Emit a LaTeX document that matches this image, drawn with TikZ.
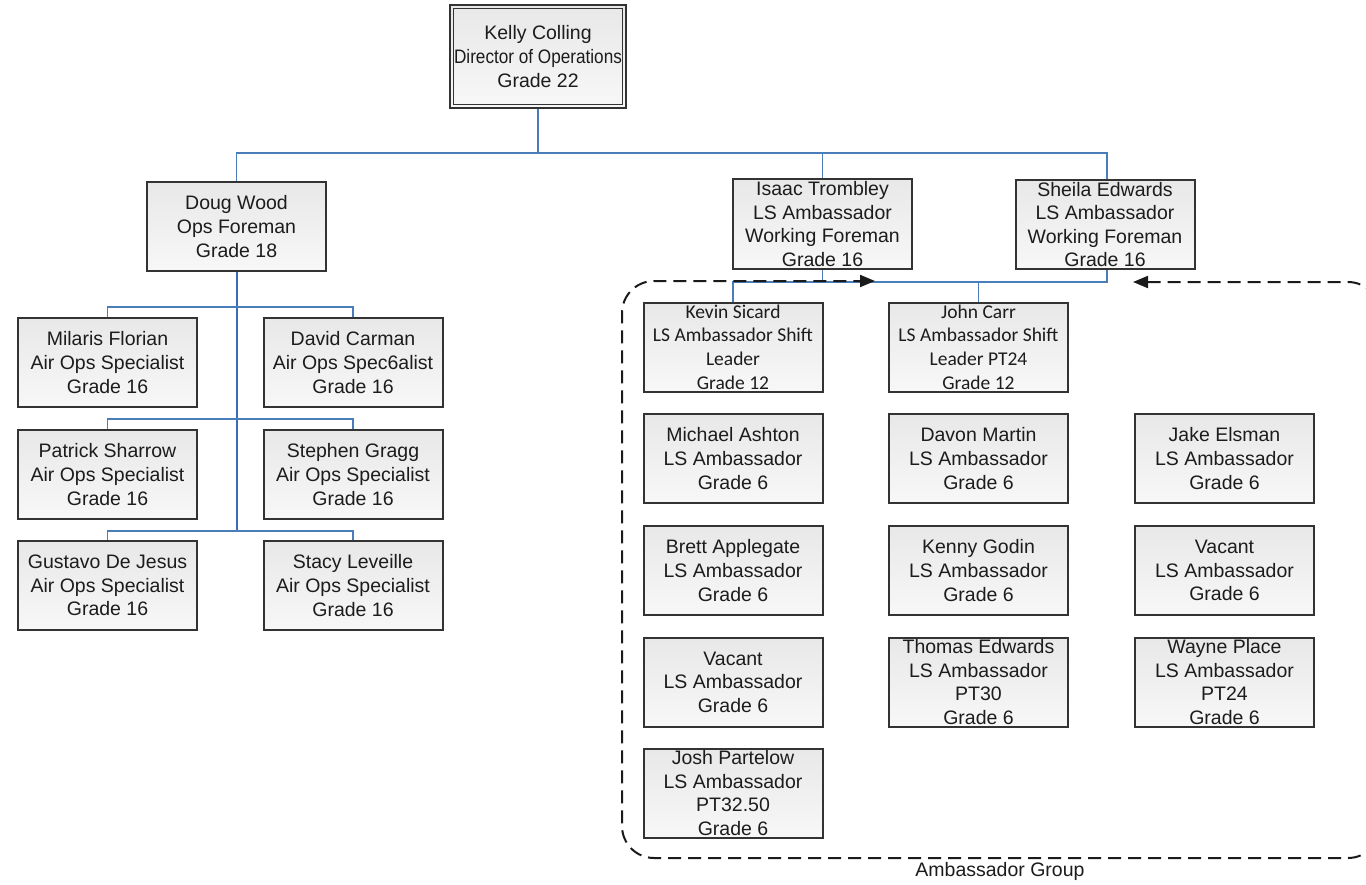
\documentclass[tikz,border=0pt]{standalone}
\usepackage{fontspec}
\usepackage{graphicx}
\setmainfont{Liberation Sans}
\newfontfamily\calibrifont{Carlito}
\usetikzlibrary{arrows.meta}
\definecolor{boxline}{HTML}{333333}
\definecolor{boxtext}{HTML}{1C1C1C}
\definecolor{conn}{HTML}{4A7EBB}
\definecolor{conndark}{HTML}{3A6CB8}
\definecolor{dashcol}{HTML}{1A1A1A}
\tikzset{
  emp/.style={draw=boxline, line width=2pt, top color=black!9, bottom color=black!3,
    minimum width=179pt, minimum height=89pt, inner sep=0pt, align=center,
    text=boxtext, font=\fontsize{19.5}{23.6}\selectfont},
  topbox/.style={emp, minimum width=176pt, minimum height=103pt},
  calib/.style={font=\calibrifont\fontsize{19.5}{23.8}\selectfont},
  link/.style={draw=conn, line width=1.5pt},
  trunk/.style={draw=conndark, line width=2pt},
  grouping/.style={draw=dashcol, line width=2pt, dash pattern=on 13pt off 7pt,
    rounded corners=32pt, {Triangle[length=15pt,width=12pt]}-{Triangle[length=15pt,width=12pt]}},
  grouplabel/.style={text=boxtext, font=\fontsize{19.5}{23.6}\selectfont, inner sep=0pt}
}
\begin{document}
\begin{tikzpicture}[x=1pt,y=-1pt]
\useasboundingbox (0,0) rectangle (1366,884);
\fill[white] (0,0) rectangle (1366,884);

% ---------- boxes ----------
\node[topbox] (kelly) at (538,56.5) {Kelly Colling\\\scalebox{0.88}[1]{Director of Operations}\\Grade 22};
\draw[boxline, line width=1.5pt] ([shift={(4.5pt,-4.5pt)}]kelly.north west) rectangle ([shift={(-4.5pt,4.5pt)}]kelly.south east);

\node[emp] (doug) at (236.5,226.5) {Doug Wood\\Ops Foreman\\Grade 18};
\node[emp] (milaris) at (107.5,362.5) {Milaris Florian\\Air Ops Specialist\\Grade 16};
\node[emp] (david) at (353,362.5) {David Carman\\Air Ops Spec6alist\\Grade 16};
\node[emp] (patrick) at (107.5,474.5) {Patrick Sharrow\\Air Ops Specialist\\Grade 16};
\node[emp] (stephen) at (353,474.5) {Stephen Gragg\\Air Ops Specialist\\Grade 16};
\node[emp] (gustavo) at (107.5,585.5) {Gustavo De Jesus\\Air Ops Specialist\\Grade 16};
\node[emp] (stacy) at (353,585.5) {Stacy Leveille\\Air Ops Specialist\\Grade 16};

\node[emp, minimum height=90pt] (isaac) at (822.5,224) {Isaac Trombley\\LS Ambassador\\Working Foreman\\Grade 16};
\node[emp] (sheila) at (1105,224.5) {Sheila Edwards\\LS Ambassador\\Working Foreman\\Grade 16};

\node[emp, calib] (kevin) at (733,347) {Kevin Sicard\\LS Ambassador Shift\\Leader\\Grade 12};
\node[emp, calib] (john) at (978.5,347) {John Carr\\LS Ambassador Shift\\Leader PT24\\Grade 12};

\node[emp] (michael) at (733,458.5) {Michael Ashton\\LS Ambassador\\Grade 6};
\node[emp] (davon) at (978.5,458.5) {Davon Martin\\LS Ambassador\\Grade 6};
\node[emp] (jake) at (1224.5,458.5) {Jake Elsman\\LS Ambassador\\Grade 6};

\node[emp] (brett) at (733,570.5) {Brett Applegate\\LS Ambassador\\Grade 6};
\node[emp] (kenny) at (978.5,570.5) {Kenny Godin\\LS Ambassador\\Grade 6};
\node[emp] (vacantA) at (1224.5,570.5) {Vacant\\LS Ambassador\\Grade 6};

\node[emp] (vacantB) at (733,682) {Vacant\\LS Ambassador\\Grade 6};
\node[emp] (thomas) at (978.5,682) {Thomas Edwards\\LS Ambassador\\PT30\\Grade 6};
\node[emp] (wayne) at (1224.5,682) {Wayne Place\\LS Ambassador\\PT24\\Grade 6};

\node[emp] (josh) at (733,793) {Josh Partelow\\LS Ambassador\\PT32.50\\Grade 6};

% ---------- connectors ----------
\draw[link] (kelly.south) -- ++(0,44) -| (doug.north);
\draw[link] (kelly.south) -- ++(0,44) -| (isaac.north);
\draw[link] (kelly.south) -- ++(0,44) -| ([xshift=2pt]sheila.north);

\draw[trunk] (doug.south) -- ++(0,259);
\draw[link] (doug.south) ++(0,35) -| (milaris.north);
\draw[link] (doug.south) ++(0,35) -| (david.north);
\draw[link] (doug.south) ++(0,147) -| (patrick.north);
\draw[link] (doug.south) ++(0,147) -| (stephen.north);
\draw[link] (doug.south) ++(0,259) -| (gustavo.north);
\draw[link] (doug.south) ++(0,259) -| (stacy.north);

\draw[link] (isaac.south) -- ++(0,12) -| (kevin.north);
\draw[link] (isaac.south) -- ++(0,12) -| (john.north);
\draw[link] ([xshift=2pt]sheila.south) -- ++(0,12) -| (isaac.south);

% ---------- ambassador group ----------
\coordinate (tipR) at (1133,282);
\coordinate (tipL) at (875,281);
\draw[grouping] (tipR) -- (1380,282) -- (1380,858) -- (622,858) -- (622,281) -- (tipL);
\node[grouplabel] (grouplbl) at (1000,871) {Ambassador Group};
\end{tikzpicture}
\end{document}
